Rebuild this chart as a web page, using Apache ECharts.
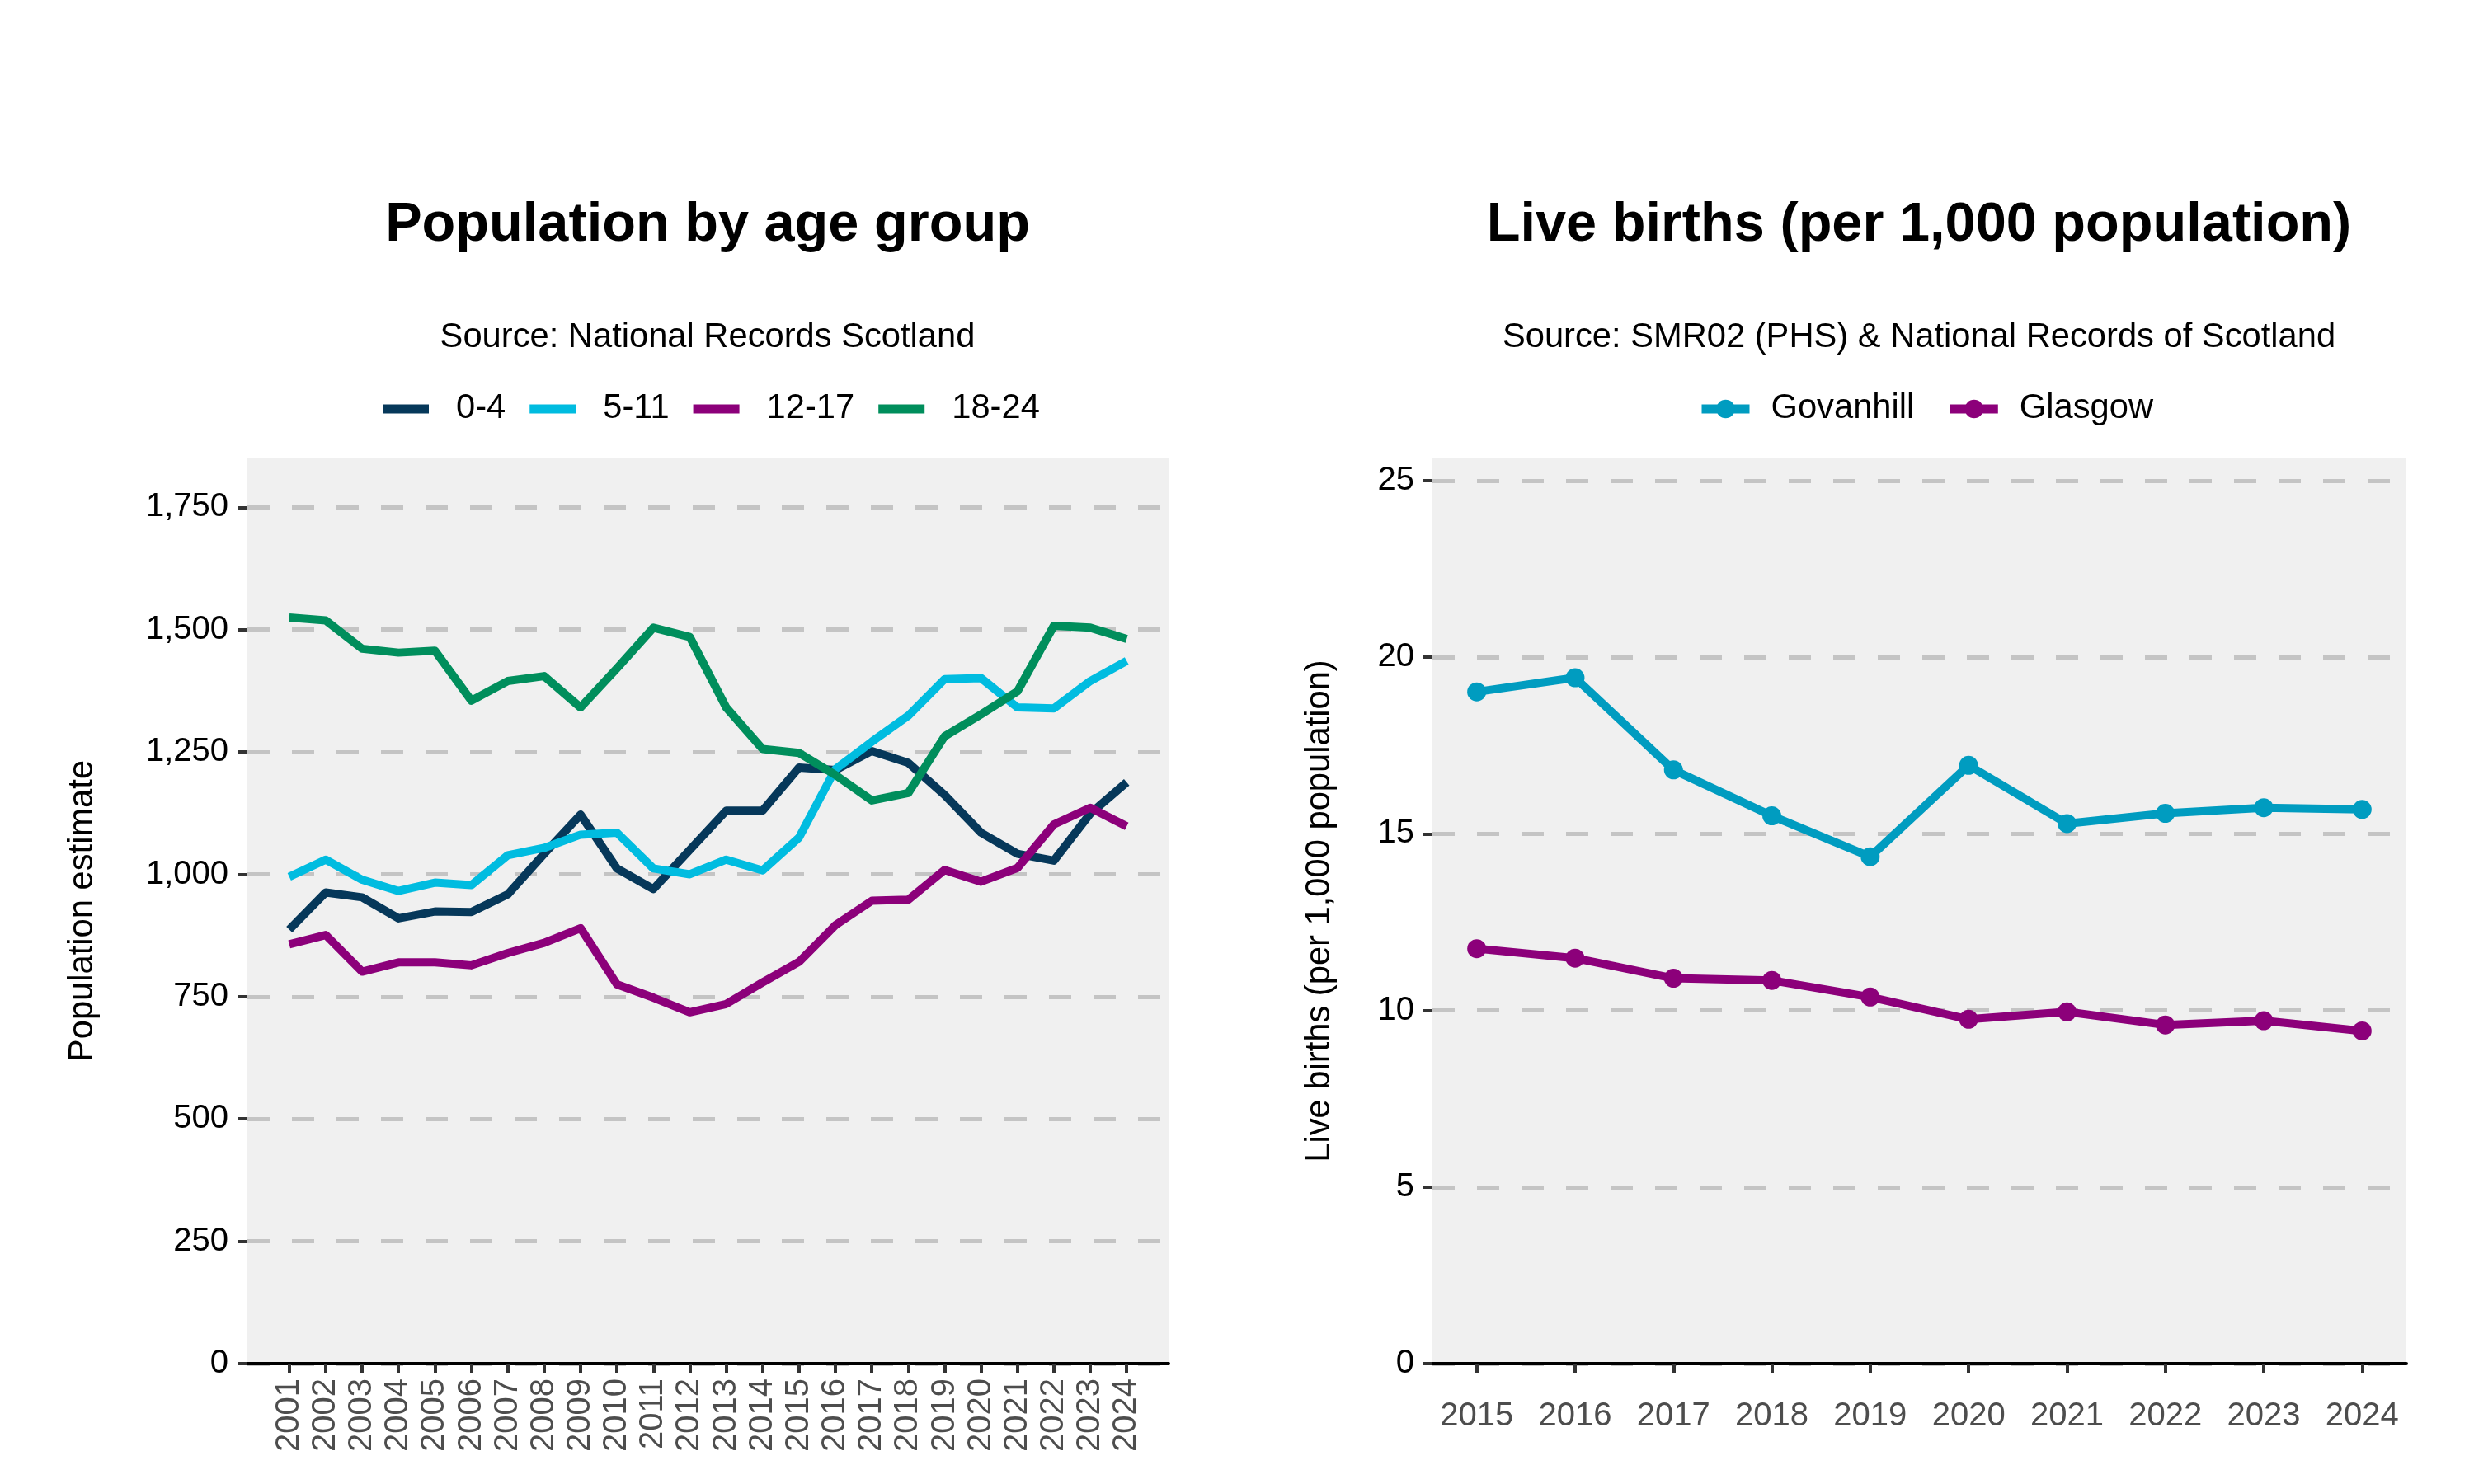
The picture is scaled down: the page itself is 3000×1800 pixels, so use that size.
<!DOCTYPE html>
<html><head><meta charset="utf-8">
<script src="https://cdn.jsdelivr.net/npm/echarts@6/dist/echarts.min.js"></script>
<style>html,body{margin:0;padding:0;background:#fff}#c{width:3000px;height:1800px}</style>
</head><body><div id="c"></div>
<script>
// ---- data ----
const popYears = [2001,2002,2003,2004,2005,2006,2007,2008,2009,2010,2011,2012,2013,2014,2015,2016,2017,2018,2019,2020,2021,2022,2023,2024];
const pop0to4   = [887,963,953,910,924,923,959,1042,1122,1012,970,1050,1130,1130,1218,1213,1252,1228,1162,1085,1042,1028,1124,1188];
const pop5to11  = [995,1030,989,966,983,978,1039,1054,1081,1085,1012,1000,1030,1008,1075,1215,1271,1324,1399,1401,1341,1339,1395,1436];
const pop12to17 = [857,876,801,820,820,814,839,860,890,775,748,718,735,779,821,896,946,948,1009,985,1013,1102,1136,1098];
const pop18to24 = [1525,1519,1461,1453,1457,1355,1395,1405,1341,1421,1504,1485,1341,1256,1248,1203,1151,1166,1282,1327,1374,1508,1504,1481];
const popGroups = ['0-4','5-11','12-17','18-24'];
const popTicks = [0,250,500,750,1000,1250,1500,1750];

const birthYears = [2015,2016,2017,2018,2019,2020,2021,2022,2023,2024];
const govanhill = [19.02,19.42,16.81,15.51,14.35,16.94,15.29,15.58,15.74,15.69];
const glasgow   = [11.75,11.48,10.91,10.85,10.38,9.75,9.96,9.59,9.71,9.42];
const birthAreas = ['Govanhill','Glasgow'];
const birthTicks = [0,5,10,15,20,25];

// ---- styling ----
const F = '"Liberation Sans", Arial, Helvetica, sans-serif';
const popColors = ['#06385a','#00bce0','#8c007a','#008e5c'];
const birthColors = ['#009cc0','#8c007a'];
const ctx = document.createElement('canvas').getContext('2d');
function textW(t, font){ ctx.font = font; return ctx.measureText(t).width; }
function centered(text, cx, top, size, weight){
  const w = textW(text, weight + ' ' + size + 'px ' + F);
  return {text, left: cx - w/2, top, padding: 0,
    textStyle: {fontFamily: F, fontSize: size, fontWeight: weight, color: '#000'}};
}
const gridLine = {show: true, lineStyle: {color: '#c4c4c4', width: 5, type: [27,27]}};
const popSeriesData = [pop0to4, pop5to11, pop12to17, pop18to24];
const birthSeriesData = [govanhill, glasgow];

const chart = echarts.init(document.getElementById('c'), null, {renderer: 'canvas'});
chart.setOption({
  animation: false,
  backgroundColor: '#fff',
  textStyle: {fontFamily: F},
  title: [
    centered('Population by age group', 858, 240, 66.7, 'bold'),
    centered('Source: National Records Scotland', 858, 389, 41.7, 'normal'),
    centered('Live births (per 1,000 population)', 2327, 240, 66.7, 'bold'),
    centered('Source: SMR02 (PHS) & National Records of Scotland', 2327, 389, 41.7, 'normal')
  ],
  legend: [
    {data: popGroups.map(n => ({name: n, icon: 'rect'})), left: 464, top: 475, padding: 0,
     itemWidth: 56, itemHeight: 11, itemGap: 29, selectedMode: false,
     textStyle: {fontFamily: F, fontSize: 41.7, color: '#000', padding: [0,0,0,28]}},
    {data: birthAreas, left: 2058, top: 475, padding: 0,
     itemWidth: 58, itemHeight: 28, itemGap: 38, selectedMode: false,
     lineStyle: {width: 11},
     textStyle: {fontFamily: F, fontSize: 41.7, color: '#000', padding: [0,0,0,21]}}
  ],
  grid: [
    {left: 300, top: 556, width: 1117, height: 1098, show: true, backgroundColor: '#f0f0f0', borderWidth: 0, outerBoundsMode: 'none'},
    {left: 1737, top: 556, width: 1181, height: 1098, show: true, backgroundColor: '#f0f0f0', borderWidth: 0, outerBoundsMode: 'none'}
  ],
  xAxis: [
    {type: 'value', gridIndex: 0, min: 1999.85, max: 2025.15,
     axisLine: {show: true, onZero: false, lineStyle: {color: '#000', width: 4}},
     axisTick: {show: true, customValues: popYears, length: 11, lineStyle: {color: '#333', width: 4}},
     axisLabel: {customValues: popYears, rotate: 90, margin: 18, fontSize: 40, color: '#4d4d4d', fontFamily: F, formatter: v => String(v)},
     splitLine: {show: false}},
    {type: 'value', gridIndex: 1, min: 2014.55, max: 2024.45,
     axisLine: {show: true, onZero: false, lineStyle: {color: '#000', width: 4}},
     axisTick: {show: true, customValues: birthYears, length: 11, lineStyle: {color: '#333', width: 4}},
     axisLabel: {customValues: birthYears, margin: 44, fontSize: 40, color: '#4d4d4d', fontFamily: F, formatter: v => String(v)},
     splitLine: {show: false}}
  ],
  yAxis: [
    {type: 'value', gridIndex: 0, min: 0, max: 1850, interval: 250,
     name: 'Population estimate', nameLocation: 'middle', nameRotate: 90, nameGap: 178,
     nameTextStyle: {fontFamily: F, fontSize: 41.7, color: '#000'},
     axisLine: {show: false},
     axisTick: {show: true, customValues: popTicks, length: 12, lineStyle: {color: '#333', width: 4}},
     axisLabel: {customValues: popTicks, margin: 23, fontSize: 40, color: '#000', fontFamily: F,
       formatter: v => Number(v).toLocaleString('en-US')},
     splitLine: gridLine},
    {type: 'value', gridIndex: 1, min: 0, max: 25.63, interval: 5,
     name: 'Live births (per 1,000 population)', nameLocation: 'middle', nameRotate: 90, nameGap: 115,
     nameTextStyle: {fontFamily: F, fontSize: 41.7, color: '#000'},
     axisLine: {show: false},
     axisTick: {show: true, customValues: birthTicks, length: 12, lineStyle: {color: '#333', width: 4}},
     axisLabel: {customValues: birthTicks, margin: 22, fontSize: 40, color: '#000', fontFamily: F,
       formatter: v => String(v)},
     splitLine: gridLine}
  ],
  series: [
    ...popGroups.map((name, i) => ({
      name, type: 'line', xAxisIndex: 0, yAxisIndex: 0,
      data: popYears.map((y, j) => [y, popSeriesData[i][j]]),
      symbol: 'none', showSymbol: false,
      lineStyle: {width: 10, color: popColors[i], join: 'round'},
      itemStyle: {color: popColors[i]}
    })),
    ...birthAreas.map((name, i) => ({
      name, type: 'line', xAxisIndex: 1, yAxisIndex: 1,
      data: birthYears.map((y, j) => [y, birthSeriesData[i][j]]),
      symbol: 'circle', symbolSize: 23, showSymbol: true,
      lineStyle: {width: 10, color: birthColors[i], join: 'round'},
      itemStyle: {color: birthColors[i]}
    }))
  ]
});
</script></body></html>
